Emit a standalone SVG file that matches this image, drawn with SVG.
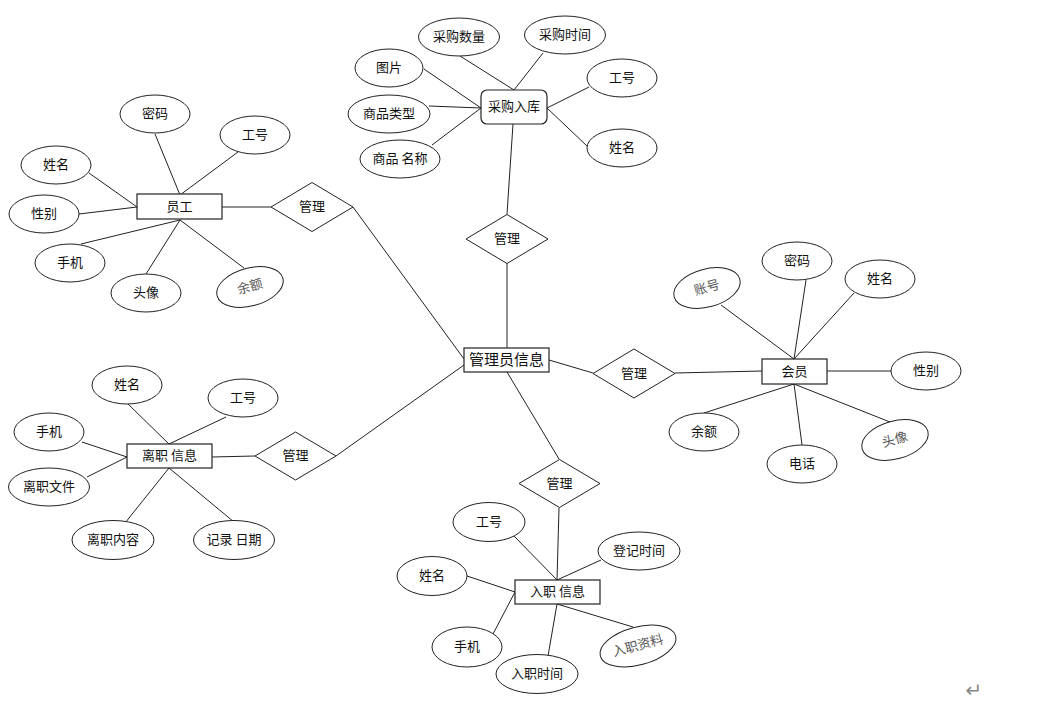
<svg xmlns="http://www.w3.org/2000/svg" width="1046" height="707" viewBox="0 0 1046 707">
<style>
.e{fill:#fff;stroke:#222;stroke-width:1}
.r{fill:#fff;stroke:#222;stroke-width:1.2}
.d{fill:#fff;stroke:#222;stroke-width:1}
.t{font-family:"Noto Sans CJK SC","Noto Sans",sans-serif;font-size:13px;fill:#111;text-anchor:middle;dominant-baseline:central;transform:translateY(-1.5px)}
.g{fill:#555}
.big{font-size:15px}
#conn line{stroke:#222;stroke-width:1}
</style>
<rect width="1046" height="707" fill="#fff"/>
<g id="conn">
<line x1="155" y1="134" x2="180" y2="195"/>
<line x1="238" y1="152" x2="180" y2="195"/>
<line x1="89" y1="173" x2="137" y2="207"/>
<line x1="79" y1="214" x2="137" y2="207"/>
<line x1="81" y1="244" x2="180" y2="220"/>
<line x1="146" y1="274" x2="180" y2="220"/>
<line x1="244" y1="268" x2="180" y2="220"/>
<line x1="222" y1="207" x2="271" y2="207"/>
<line x1="353" y1="207" x2="464" y2="359"/>
<line x1="460" y1="56" x2="514" y2="90"/>
<line x1="543" y1="53" x2="514" y2="90"/>
<line x1="424" y1="69" x2="481" y2="108"/>
<line x1="429" y1="106" x2="481" y2="108"/>
<line x1="432" y1="145" x2="481" y2="108"/>
<line x1="589" y1="87" x2="547" y2="108"/>
<line x1="587" y1="146" x2="547" y2="108"/>
<line x1="513" y1="124" x2="507" y2="214"/>
<line x1="507" y1="263" x2="507" y2="348"/>
<line x1="549" y1="360" x2="593" y2="373"/>
<line x1="675" y1="373" x2="762" y2="371"/>
<line x1="721" y1="305" x2="794" y2="359"/>
<line x1="806" y1="280" x2="794" y2="359"/>
<line x1="854" y1="293" x2="794" y2="359"/>
<line x1="827" y1="371" x2="891" y2="371"/>
<line x1="704" y1="413" x2="794" y2="384"/>
<line x1="802" y1="445" x2="794" y2="384"/>
<line x1="890" y1="422" x2="794" y2="384"/>
<line x1="128" y1="404" x2="169" y2="444"/>
<line x1="226" y1="417" x2="169" y2="444"/>
<line x1="82" y1="442" x2="127" y2="457"/>
<line x1="87" y1="477" x2="127" y2="457"/>
<line x1="125" y1="523" x2="169" y2="468"/>
<line x1="234" y1="522" x2="169" y2="468"/>
<line x1="212" y1="457" x2="255" y2="456"/>
<line x1="336" y1="456" x2="464" y2="365"/>
<line x1="507" y1="372" x2="559" y2="459"/>
<line x1="559" y1="508" x2="557" y2="580"/>
<line x1="514" y1="536" x2="557" y2="580"/>
<line x1="601" y1="560" x2="557" y2="580"/>
<line x1="467" y1="576" x2="515" y2="592"/>
<line x1="493" y1="634" x2="515" y2="592"/>
<line x1="548" y1="656" x2="557" y2="604"/>
<line x1="633" y1="627" x2="557" y2="604"/>
</g>

<g id="admin">
<rect class="r" x="464" y="348" width="85" height="24"/>
<text class="t big" x="506.5" y="360">管理员信息</text>
</g>

<g id="emp"><rect class="r" x="137" y="194" width="85" height="25"/><text class="t" x="179.5" y="206.5">员工</text></g>
<g id="emp-mima"><ellipse class="e" cx="155" cy="114" rx="35" ry="19"/><text class="t" x="155" y="114">密码</text></g>
<g id="emp-gonghao"><ellipse class="e" cx="255" cy="135" rx="35" ry="19"/><text class="t" x="255" y="135">工号</text></g>
<g id="emp-xingming"><ellipse class="e" cx="56" cy="165" rx="35" ry="19"/><text class="t" x="56" y="165">姓名</text></g>
<g id="emp-xingbie"><ellipse class="e" cx="44" cy="214" rx="35" ry="19"/><text class="t" x="44" y="214">性别</text></g>
<g id="emp-shouji"><ellipse class="e" cx="70" cy="263" rx="35" ry="19"/><text class="t" x="70" y="263">手机</text></g>
<g id="emp-touxiang"><ellipse class="e" cx="146" cy="293" rx="35" ry="19"/><text class="t" x="146" y="293">头像</text></g>
<g id="emp-yue" transform="rotate(-15 250 287)"><ellipse class="e" cx="250" cy="287" rx="34" ry="19"/><text class="t g" x="250" y="287">余额</text></g>
<g id="rel-emp"><polygon class="d" points="271,207 312,182.5 353,207 312,231.5"/><text class="t" x="312" y="207">管理</text></g>

<g id="purchase"><rect class="r" x="481" y="90" width="66" height="34" rx="6"/><text class="t" x="514" y="107">采购入库</text></g>
<g id="pur-shuliang"><ellipse class="e" cx="459" cy="37" rx="40.5" ry="19"/><text class="t" x="459" y="37">采购数量</text></g>
<g id="pur-shijian"><ellipse class="e" cx="565" cy="35" rx="40.5" ry="19"/><text class="t" x="565" y="35">采购时间</text></g>
<g id="pur-tupian"><ellipse class="e" cx="389" cy="68" rx="34" ry="19"/><text class="t" x="389" y="68">图片</text></g>
<g id="pur-leixing"><ellipse class="e" cx="389" cy="114" rx="41" ry="19"/><text class="t" x="389" y="114">商品类型</text></g>
<g id="pur-mingcheng"><ellipse class="e" cx="400" cy="159" rx="40" ry="19"/><text class="t" x="400" y="159">商品 名称</text></g>
<g id="pur-gonghao"><ellipse class="e" cx="622" cy="78" rx="35" ry="19"/><text class="t" x="622" y="78">工号</text></g>
<g id="pur-xingming"><ellipse class="e" cx="622" cy="148" rx="35" ry="19"/><text class="t" x="622" y="148">姓名</text></g>
<g id="rel-pur"><polygon class="d" points="466,239 507,214.5 548,239 507,263.5"/><text class="t" x="507" y="239">管理</text></g>

<g id="member"><rect class="r" x="762" y="359" width="65" height="25"/><text class="t" x="794.5" y="371.5">会员</text></g>
<g id="mem-zhanghao" transform="rotate(-15 707 288)"><ellipse class="e" cx="707" cy="288" rx="34" ry="19"/><text class="t g" x="707" y="288">账号</text></g>
<g id="mem-mima"><ellipse class="e" cx="797" cy="261" rx="35" ry="19"/><text class="t" x="797" y="261">密码</text></g>
<g id="mem-xingming"><ellipse class="e" cx="880" cy="279" rx="35" ry="19"/><text class="t" x="880" y="279">姓名</text></g>
<g id="mem-xingbie"><ellipse class="e" cx="926" cy="371" rx="35" ry="19"/><text class="t" x="926" y="371">性别</text></g>
<g id="mem-yue"><ellipse class="e" cx="704" cy="432" rx="35" ry="19"/><text class="t" x="704" y="432">余额</text></g>
<g id="mem-dianhua"><ellipse class="e" cx="802" cy="464" rx="35" ry="19"/><text class="t" x="802" y="464">电话</text></g>
<g id="mem-touxiang" transform="rotate(-15 895 440)"><ellipse class="e" cx="895" cy="440" rx="34" ry="19"/><text class="t g" x="895" y="440">头像</text></g>
<g id="rel-mem"><polygon class="d" points="593,373.5 634,349 675,373.5 634,398"/><text class="t" x="634" y="373.5">管理</text></g>

<g id="resign"><rect class="r" x="127" y="444" width="85" height="24"/><text class="t" x="169.5" y="456">离职 信息</text></g>
<g id="res-xingming"><ellipse class="e" cx="127" cy="385" rx="35" ry="19"/><text class="t" x="127" y="385">姓名</text></g>
<g id="res-gonghao"><ellipse class="e" cx="243" cy="398" rx="35" ry="19"/><text class="t" x="243" y="398">工号</text></g>
<g id="res-shouji"><ellipse class="e" cx="49" cy="432" rx="35" ry="19"/><text class="t" x="49" y="432">手机</text></g>
<g id="res-wenjian"><ellipse class="e" cx="49" cy="487" rx="40.5" ry="19"/><text class="t" x="49" y="487">离职文件</text></g>
<g id="res-neirong"><ellipse class="e" cx="113" cy="540" rx="41" ry="19.5"/><text class="t" x="113" y="540">离职内容</text></g>
<g id="res-riqi"><ellipse class="e" cx="234" cy="540" rx="40.5" ry="19.5"/><text class="t" x="234" y="540">记录 日期</text></g>
<g id="rel-res"><polygon class="d" points="255,456 295.5,432 336,456 295.5,480"/><text class="t" x="295.5" y="456">管理</text></g>

<g id="entry"><rect class="r" x="515" y="580" width="85" height="24"/><text class="t" x="557.5" y="592">入职 信息</text></g>
<g id="ent-gonghao"><ellipse class="e" cx="489" cy="522" rx="36" ry="19.5"/><text class="t" x="489" y="522">工号</text></g>
<g id="ent-dengji"><ellipse class="e" cx="639" cy="551" rx="41" ry="19"/><text class="t" x="639" y="551">登记时间</text></g>
<g id="ent-xingming"><ellipse class="e" cx="432" cy="576" rx="35" ry="19.5"/><text class="t" x="432" y="576">姓名</text></g>
<g id="ent-shouji"><ellipse class="e" cx="467" cy="647" rx="35" ry="20"/><text class="t" x="467" y="647">手机</text></g>
<g id="ent-shijian"><ellipse class="e" cx="537" cy="674" rx="41" ry="19.5"/><text class="t" x="537" y="674">入职时间</text></g>
<g id="ent-ziliao" transform="rotate(-15 638 646)"><ellipse class="e" cx="638" cy="646" rx="39" ry="19"/><text class="t g" x="638" y="646">入职资料</text></g>
<g id="rel-ent"><polygon class="d" points="519,483.5 559.5,459.5 600,483.5 559.5,507.5"/><text class="t" x="559.5" y="483.5">管理</text></g>

<text x="974" y="690" font-family="DejaVu Sans, sans-serif" font-size="20" fill="#888" text-anchor="middle" dominant-baseline="central">↵</text>
</svg>
